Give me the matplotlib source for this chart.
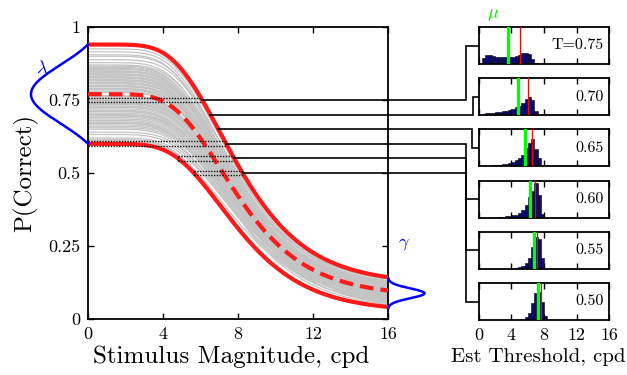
import numpy as np
import matplotlib
matplotlib.use("Agg")
import matplotlib.pyplot as plt

plt.rcParams['font.family'] = ['cmr10', 'DejaVu Serif']
plt.rcParams['mathtext.fontset'] = 'cm'
plt.rcParams['axes.unicode_minus'] = False
plt.rcParams['axes.formatter.use_mathtext'] = True

# ---------------- data ----------------
# psychometric model: P = gamma + (lambda - gamma) * (1 - Gumbel CDF(x; loc, scale))
curve_loc = 7.05
curve_scale = 2.52
upper_curve = (0.94, 0.12)     # (lambda, gamma)
lower_curve = (0.60, 0.025)
mean_curve = (0.77, 0.078)

gray_lambdas = [0.925, 0.915, 0.900, 0.878, 0.870, 0.862, 0.855, 0.850, 0.845, 0.840,
                0.835, 0.830, 0.825, 0.820, 0.815, 0.810, 0.805, 0.800, 0.795, 0.790,
                0.785, 0.780, 0.775, 0.765, 0.760, 0.755, 0.750, 0.745, 0.740, 0.735,
                0.730, 0.725, 0.720, 0.715, 0.710, 0.705, 0.700, 0.695, 0.690, 0.685,
                0.680, 0.675, 0.670, 0.665, 0.660, 0.650, 0.640, 0.632, 0.620, 0.610,
                0.905, 0.888, 0.866, 0.858, 0.848, 0.838, 0.828, 0.818, 0.808, 0.798,
                0.788, 0.762, 0.748, 0.738, 0.728, 0.712, 0.698, 0.672, 0.655, 0.615]
gray_gammas = [0.100, 0.070, 0.090, 0.060, 0.110, 0.080, 0.050, 0.095, 0.075, 0.065,
               0.085, 0.100, 0.055, 0.090, 0.070, 0.080, 0.105, 0.060, 0.088, 0.072,
               0.045, 0.098, 0.082, 0.068, 0.092, 0.078, 0.058, 0.086, 0.108, 0.074,
               0.064, 0.094, 0.080, 0.050, 0.090, 0.070, 0.100, 0.062, 0.084, 0.076,
               0.040, 0.096, 0.066, 0.088, 0.112, 0.056, 0.082, 0.070, 0.092, 0.060,
               0.035, 0.115, 0.030, 0.104, 0.048, 0.118, 0.036, 0.097, 0.042, 0.110,
               0.052, 0.033, 0.102, 0.044, 0.114, 0.038, 0.106, 0.032, 0.099, 0.028]

lambda_prior = dict(mean=0.77, sd=0.10, lo=0.60, hi=0.94)
gamma_prior = dict(mean=0.088, sd=0.017, lo=0.038, hi=0.138)

thresh_levels = [0.75, 0.70, 0.65, 0.60, 0.55, 0.50]
thresh_labels = ['T=0.75', '0.70', '0.65', '0.60', '0.55', '0.50']
dotted_levels = [0.75, 0.60, 0.55, 0.50]

bin_centers = [0.2, 0.6, 1.0, 1.4, 1.8, 2.2, 2.6, 3.0, 3.4, 3.8, 4.2,
               4.6, 5.0, 5.4, 5.8, 6.2, 6.6, 7.0, 7.4, 7.8, 8.2, 8.6]
hist_075 = [0, 0.17, 0.24, 0.23, 0.21, 0.20, 0.19, 0.18, 0.18, 0.20, 0.19,
            0.22, 0.24, 0.29, 0.31, 0.26, 0.14, 0.02, 0, 0, 0, 0]
hist_070 = [0, 0.04, 0.05, 0.06, 0.07, 0.08, 0.09, 0.10, 0.12, 0.15, 0.18,
            0.21, 0.25, 0.33, 0.44, 0.50, 0.42, 0.12, 0, 0, 0, 0]
hist_065 = [0, 0, 0.02, 0.02, 0.03, 0.04, 0.05, 0.06, 0.07, 0.09, 0.12,
            0.16, 0.22, 0.30, 0.50, 0.64, 0.75, 0.48, 0.22, 0, 0, 0]
hist_060 = [0, 0, 0, 0, 0, 0, 0.01, 0.02, 0.03, 0.04, 0.06,
            0.08, 0.13, 0.20, 0.35, 0.55, 0.72, 0.93, 0.60, 0.10, 0, 0]
hist_055 = [0, 0, 0, 0, 0, 0, 0, 0, 0, 0, 0,
            0.02, 0.04, 0.08, 0.15, 0.30, 0.60, 0.87, 0.80, 0.30, 0, 0]
hist_050 = [0, 0, 0, 0, 0, 0, 0, 0, 0, 0, 0,
            0, 0, 0.03, 0.08, 0.20, 0.45, 0.72, 0.77, 0.50, 0.12, 0]
hist_list = [hist_075, hist_070, hist_065, hist_060, hist_055, hist_050]
mu_values = [3.6, 4.74, 5.64, 6.3, 6.8, 7.27]
true_values = [5.03, 6.05, 6.54, 6.95, 7.18, 7.6]

# ---------------- helpers ----------------
def psy(x, lam, gam):
    F = np.exp(-np.exp(-(x - curve_loc) / curve_scale))
    return gam + (lam - gam) * (1 - F)

def crossing(T, lam, gam):
    N = (T - gam) / (lam - gam)
    if N >= 1:
        return 0.0
    F = 1 - N
    return curve_loc - curve_scale * np.log(-np.log(F))

# ---------------- figure ----------------
W, H = 627, 375
fig = plt.figure(figsize=(W / 100, H / 100), dpi=100)

def rect(l, t, r, b):
    return [l / W, 1 - b / H, (r - l) / W, (b - t) / H]

ax = fig.add_axes(rect(88, 27, 388, 319))
ax.set_xlim(0, 16)
ax.set_ylim(0, 1)

xs = np.linspace(0, 16, 400)
for lam, gam in zip(gray_lambdas, gray_gammas):
    ax.plot(xs, psy(xs, lam, gam), color='#c4c4c4', lw=0.9, zorder=2)

red = '#ff1a1a'
ax.plot(xs, psy(xs, *upper_curve), color=red, lw=3.0, zorder=4, solid_capstyle='butt')
ax.plot(xs, psy(xs, *lower_curve), color=red, lw=3.0, zorder=4, solid_capstyle='butt')
ax.plot(xs, psy(xs, *mean_curve), color=red, lw=3.0, zorder=4, dashes=(3.3, 1.7))

# dotted threshold-range boxes
half_h = 0.0085
for T in dotted_levels:
    x_hi = crossing(T, *upper_curve)
    x_lo = crossing(T, *lower_curve) if T < lower_curve[0] else 0.0
    for yy in (T - half_h, T + half_h):
        ax.plot([x_lo, x_hi], [yy, yy], color='#111111', lw=1.0, ls=(0, (1, 1)), zorder=5)
    ax.plot([x_lo, x_lo], [T - half_h, T + half_h], color='#111111', lw=1.0, ls=(0, (1, 1)), zorder=5)

# priors
ly = np.linspace(lambda_prior['lo'], lambda_prior['hi'], 200)
base = np.exp(-((lambda_prior['hi'] - lambda_prior['mean']) ** 2) / (2 * lambda_prior['sd'] ** 2))
ld = (np.exp(-((ly - lambda_prior['mean']) ** 2) / (2 * lambda_prior['sd'] ** 2)) - base) / (1 - base)
ax.plot(-ld * 3.04, ly, color='#0000ff', lw=1.8, clip_on=False, zorder=6)

gy = np.linspace(gamma_prior['lo'], gamma_prior['hi'], 200)
gd = np.exp(-((gy - gamma_prior['mean']) ** 2) / (2 * gamma_prior['sd'] ** 2))
ax.plot(16 + gd * 1.95, gy, color='#0000ff', lw=1.8, clip_on=False, zorder=6)

ax.text(-2.45, 0.86, r'$\lambda$', color='#0000ff', fontsize=13, ha='center', va='center')
ax.text(16.85, 0.255, r'$\gamma$', color='#0000ff', fontsize=13, ha='center', va='center')

ax.set_xticks([0, 4, 8, 12, 16])
ax.set_xticklabels(['0', '4', '8', '12', '16'])
ax.set_yticks([0, 0.25, 0.5, 0.75, 1])
ax.set_yticklabels(['0', '0.25', '0.5', '0.75', '1'])
ax.tick_params(direction='in', top=True, right=True, length=4.5, width=1.0,
               labelsize=13, pad=5.5)
for s in ax.spines.values():
    s.set_linewidth(1.3)
ax.set_ylabel('P(Correct)', fontsize=18, labelpad=7)
fig.text(231 / W, 1 - 357 / H, 'Stimulus Magnitude, cpd', fontsize=18, ha='center', va='center')

# histogram panels
tops = [27 + i * 51.2 for i in range(6)]
panels = []
bc = np.array(bin_centers)
for i, top in enumerate(tops):
    pax = fig.add_axes(rect(479, top, 609, top + 37))
    h = np.array(hist_list[i])
    m = h > 0
    pax.bar(bc[m], h[m], width=0.4, color='#0a0a70', edgecolor='black', linewidth=0.4, zorder=2)
    pax.axvline(mu_values[i], color='#00ff00', lw=2.4, zorder=3)
    pax.axvline(true_values[i], color='#ff0000', lw=0.9, zorder=4)
    pax.set_xlim(0, 16)
    pax.set_ylim(0, 1)
    pax.set_yticks([])
    pax.set_xticks([0, 4, 8, 12, 16])
    pax.tick_params(direction='in', top=True, length=4, width=1.0, labelsize=13, pad=5.5,
                    labelbottom=(i == 5))
    if i == 5:
        pax.set_xticklabels(['0', '4', '8', '12', '16'])
    for s in pax.spines.values():
        s.set_linewidth(1.3)
    pax.text(0.96, 0.5, thresh_labels[i], transform=pax.transAxes, ha='right', va='center',
             fontsize=11.5)
    panels.append(pax)

fig.text(538 / W, 1 - 357 / H, 'Est Threshold, cpd', fontsize=15, ha='center', va='center')
fig.text(493 / W, 1 - 15 / H, r'$\mu$', color='#00ee00', fontsize=13, ha='center', va='center')

# connectors
inv = ax.transData.inverted()
x_main_right = ax.transAxes.transform((1, 0))[0]
jog_frac = [0.857, 0.934, 0.926, 0.857, 0.857, 0.857]
for i, T in enumerate(thresh_levels):
    pax = panels[i]
    px_disp = pax.transAxes.transform((0, 0.5))
    p_data = inv.transform(px_disp)
    xj_disp = x_main_right + jog_frac[i] * (px_disp[0] - x_main_right)
    xj = inv.transform((xj_disp, 0))[0]
    xc = crossing(T, *upper_curve)
    ax.plot([xc, xj, xj, p_data[0]], [T, T, p_data[1], p_data[1]], color='black', lw=1.2,
            clip_on=False, zorder=7, solid_joinstyle='miter')

fig.savefig('out.png', dpi=100)
